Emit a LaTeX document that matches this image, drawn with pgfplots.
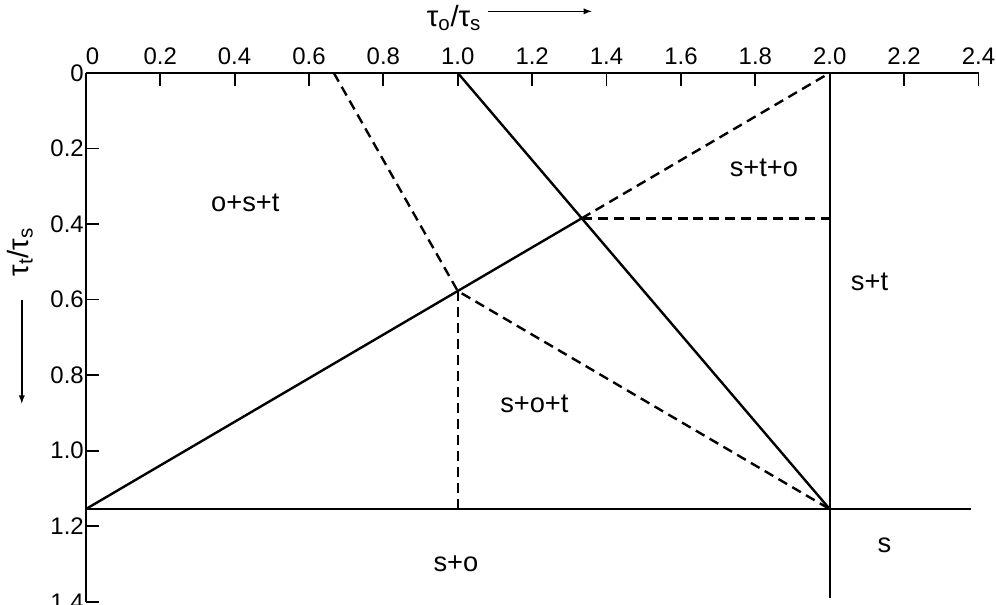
\documentclass[border=0pt]{standalone}
\usepackage{pgfplots}
\pgfplotsset{compat=1.18}
\usepackage{fontspec}
\setmainfont{Liberation Sans}
\begin{document}
\begin{tikzpicture}[font=\fontsize{18}{22}\selectfont,
  dashpat/.style={dash pattern=on 7.5pt off 4.5pt},
  lab/.style={font=\fontsize{20.5}{24}\selectfont}]
\begin{axis}[
  scale only axis, width=671pt, height=397.5pt,
  xmin=0, xmax=2.4, ymin=0, ymax=1.4, y dir=reverse,
  axis x line*=top, axis y line*=left,
  xtick={0,0.2,0.4,0.6,0.8,1.0,1.2,1.4,1.6,1.8,2.0,2.2,2.4},
  xticklabels={\hphantom{0}0,0.2,0.4,0.6,0.8,1.0,1.2,1.4,1.6,1.8,2.0,2.2,2.4},
  ytick={0,0.2,0.4,0.6,0.8,1.0,1.2,1.4},
  yticklabels={0,0.2,0.4,0.6,0.8,1.0,1.2,1.4},
  /pgf/number format/assume math mode=true,
  tick align=inside, major tick length=10pt,
  xticklabel style={yshift=2.5pt},
  yticklabel style={xshift=2pt},
  axis line style={line width=1.4pt, black},
  tick style={line width=1.4pt, black},
  clip=false,
  every axis plot/.append style={line width=1.8pt, black},
]
\addplot[solid] coordinates {(0,1.1547) (1.3333,0.3849)};
\addplot[dashpat] coordinates {(1.3333,0.3849) (2,0)};
\addplot[solid] coordinates {(1,0) (2,1.1547)};
\addplot[dashpat] coordinates {(0.6667,0) (1,0.5774) (2,1.1547)};
\addplot[dashpat] coordinates {(1,0.5774) (1,1.1547)};
\addplot[dashpat] coordinates {(1.3333,0.3849) (2,0.3849)};
\addplot[solid] coordinates {(2,0) (2,1.39)};
\addplot[solid] coordinates {(0,1.1547) (2.38,1.1547)};

\node[lab] at (axis cs:0.429,0.343) {o+s+t};
\node[lab] at (axis cs:1.823,0.251) {s+t+o};
\node[lab] at (axis cs:2.107,0.553) {s+t};
\node[lab] at (axis cs:1.206,0.877) {s+o+t};
\node[lab] at (axis cs:0.995,1.30) {s+o};
\node[lab] at (axis cs:2.147,1.251) {s};

\node[font=\fontsize{22}{26}\selectfont] at (axis cs:0.99,-0.145) {τ\textsubscript{o}/τ\textsubscript{s}};
\draw[-latex, line width=1.1pt] (axis cs:1.08,-0.163) -- (axis cs:1.36,-0.163);
\node[rotate=90, font=\fontsize{22}{26}\selectfont] at (axis cs:-0.177,0.474) {τ\textsubscript{t}/τ\textsubscript{s}};
\draw[-latex, line width=1.1pt] (axis cs:-0.172,0.60) -- (axis cs:-0.172,0.875);

\coordinate (BL) at (axis cs:-0.2306,1.408);
\coordinate (TR) at (axis cs:2.447,-0.193);
\end{axis}
\pgfresetboundingbox
\path (BL) rectangle (TR);
\end{tikzpicture}
\end{document}
